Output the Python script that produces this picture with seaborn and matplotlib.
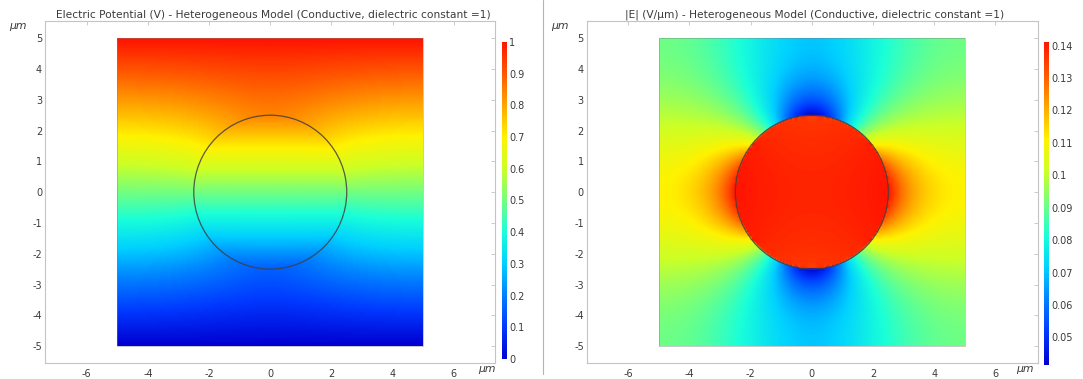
import numpy as np
import matplotlib
matplotlib.use("Agg")
import matplotlib.pyplot as plt
from matplotlib.patches import Circle, Rectangle
from matplotlib.lines import Line2D
import seaborn as sns

# ---------------- data / model parameters ----------------
DOMAIN_X = [-5.0, 5.0]          # µm
DOMAIN_Y = [-5.0, 5.0]          # µm
CELL_RADIUS = 2.5               # µm
V_BOTTOM, V_TOP = 0.0, 1.0      # V
SIGMA_OUT, SIGMA_IN = 1.0, 0.31 # relative conductivities
V_LIMITS = [0.0, 1.0]
E_LIMITS = [0.0415, 0.1411]
V_TICKS = [0, 0.1, 0.2, 0.3, 0.4, 0.5, 0.6, 0.7, 0.8, 0.9, 1]
E_TICKS = [0.05, 0.06, 0.07, 0.08, 0.09, 0.1, 0.11, 0.12, 0.13, 0.14]
X_TICKS = [-6, -4, -2, 0, 2, 4, 6]
Y_TICKS = [-5, -4, -3, -2, -1, 0, 1, 2, 3, 4, 5]
TITLES = ["Electric Potential (V) - Heterogeneous Model (Conductive, dielectric constant =1)",
          "|E| (V/\u00b5m) - Heterogeneous Model (Conductive, dielectric constant =1)"]
RAINBOW = [(0.00, 0.00, 0.82), (0.00, 0.22, 1.00), (0.00, 0.50, 1.00), (0.00, 0.82, 1.00),
           (0.10, 1.00, 0.85), (0.45, 1.00, 0.50), (0.80, 1.00, 0.15), (1.00, 0.95, 0.00),
           (1.00, 0.65, 0.00), (1.00, 0.35, 0.00), (1.00, 0.08, 0.00)]

# ---------------- solve the conduction problem (Laplace) ----------------
N = 241
xs = np.linspace(DOMAIN_X[0], DOMAIN_X[1], N)
ys = np.linspace(DOMAIN_Y[0], DOMAIN_Y[1], N)
h = xs[1] - xs[0]
X, Y = np.meshgrid(xs, ys)
xm = 0.5 * (xs[:-1] + xs[1:])
ym = 0.5 * (ys[:-1] + ys[1:])


def face_sigma(FX, FY):
    f = np.clip((CELL_RADIUS - np.hypot(FX, FY)) / h + 0.5, 0.0, 1.0)
    harm = 1.0 / (f / SIGMA_IN + (1 - f) / SIGMA_OUT)
    arit = f * SIGMA_IN + (1 - f) * SIGMA_OUT
    return 0.5 * (harm + arit)


XE, YE = np.meshgrid(xm, ys)
sE = face_sigma(XE, YE)
XN, YN = np.meshgrid(xs, ym)
sN = face_sigma(XN, YN)
den = np.zeros((N, N))
den[:, :-1] += sE; den[:, 1:] += sE; den[:-1, :] += sN; den[1:, :] += sN
V = V_BOTTOM + (Y - DOMAIN_Y[0]) / (DOMAIN_Y[1] - DOMAIN_Y[0]) * (V_TOP - V_BOTTOM)
I, J = np.indices((N, N))
interior = (I > 0) & (I < N - 1)
masks = [interior & ((I + J) % 2 == 0), interior & ((I + J) % 2 == 1)]
omega = 2.0 / (1.0 + np.sin(np.pi / N))
for _ in range(3000):
    for m in masks:
        num = np.zeros((N, N))
        num[:, :-1] += sE * V[:, 1:]
        num[:, 1:] += sE * V[:, :-1]
        num[:-1, :] += sN * V[1:, :]
        num[1:, :] += sN * V[:-1, :]
        V[m] += omega * (num[m] / den[m] - V[m])

# field: one-sided differences that never cross the cell boundary
inside = X**2 + Y**2 < CELL_RADIUS**2
gx = np.diff(V, axis=1) / h
vx = (inside[:, 1:] == inside[:, :-1]).astype(float)
nx = np.zeros((N, N)); cx = np.zeros((N, N))
nx[:, :-1] += gx * vx; cx[:, :-1] += vx
nx[:, 1:] += gx * vx; cx[:, 1:] += vx
gy = np.diff(V, axis=0) / h
vy = (inside[1:, :] == inside[:-1, :]).astype(float)
ny = np.zeros((N, N)); cy = np.zeros((N, N))
ny[:-1, :] += gy * vy; cy[:-1, :] += vy
ny[1:, :] += gy * vy; cy[1:, :] += vy
Emag = np.hypot(nx / np.maximum(cx, 1), ny / np.maximum(cy, 1))

# ---------------- styling ----------------
sns.set_theme(style="white")
plt.rcParams["font.family"] = ["DejaVu Sans"]
cmap = sns.blend_palette(RAINBOW, as_cmap=True)

W, H = 1083, 379
fig = plt.figure(figsize=(W / 100, H / 100), dpi=100)

def rect(l, t, r, b):
    return [l / W, 1 - b / H, (r - l) / W, (b - t) / H]

FRAME = "#c4c4c4"
TXT = "#3a3a3a"
panels = [
    dict(ax=rect(44.8, 21.3, 494.8, 363), cax=rect(502, 42, 506.5, 359), xlim=(-7.37, 7.34),
         data=V, lim=V_LIMITS, ticks=V_TICKS, title=TITLES[0], tx=273.7, um_y=18, um_x=487),
    dict(ax=rect(586.7, 21.3, 1037.6, 363), cax=rect(1044, 42, 1049, 365), xlim=(-7.36, 7.38),
         data=Emag, lim=E_LIMITS, ticks=E_TICKS, title=TITLES[1], tx=815, um_y=560, um_x=1025),
]
for p in panels:
    ax = fig.add_axes(p["ax"])
    im = ax.imshow(p["data"], origin="lower", cmap=cmap, vmin=p["lim"][0], vmax=p["lim"][1],
                   extent=[DOMAIN_X[0], DOMAIN_X[1], DOMAIN_Y[0], DOMAIN_Y[1]],
                   interpolation="bilinear", aspect="auto")
    ax.add_patch(Rectangle((DOMAIN_X[0], DOMAIN_Y[0]), DOMAIN_X[1] - DOMAIN_X[0],
                           DOMAIN_Y[1] - DOMAIN_Y[0], fill=False, ec="#808080", lw=0.6, alpha=0.5))
    ax.add_patch(Circle((0, 0), CELL_RADIUS, fill=False, ec="#404040", lw=0.9, alpha=0.85))
    ax.set_xlim(*p["xlim"])
    ax.set_ylim(-5.55, 5.55)
    ax.set_xticks(X_TICKS)
    ax.set_yticks(Y_TICKS)
    ax.set_xticklabels([str(t) for t in X_TICKS])
    ax.set_yticklabels([str(t) for t in Y_TICKS])
    ax.tick_params(direction="in", length=3, width=0.6, color=FRAME, labelsize=7,
                   labelcolor=TXT, top=True, right=True, pad=2)
    ax.tick_params(axis="x", pad=4)
    for s in ax.spines.values():
        s.set_color(FRAME)
        s.set_linewidth(0.8)
    ax.grid(False)
    cax = fig.add_axes(p["cax"])
    cb = fig.colorbar(im, cax=cax, ticks=p["ticks"])
    cb.outline.set_visible(False)
    cb.ax.tick_params(length=0, labelsize=7, labelcolor=TXT, pad=2)
    cb.ax.set_yticklabels([f"{t:g}" for t in p["ticks"]])
    fig.text(p["tx"] / W, 1 - 14.5 / H, p["title"], ha="center", va="center", fontsize=7.7, color=TXT)
    fig.text(p["um_y"] / W, 1 - 26 / H, "\u03bcm", ha="center", va="center", fontsize=7.8, color=TXT,
             style="italic")
    fig.text(p["um_x"] / W, 1 - 369 / H, "\u03bcm", ha="center", va="center", fontsize=7.8, color=TXT,
             style="italic")

fig.add_artist(Line2D([542.8 / W, 542.8 / W], [1 - 374 / H, 1.0], color="#b4b4b4", lw=0.8))
fig.savefig("out.png", dpi=100)
